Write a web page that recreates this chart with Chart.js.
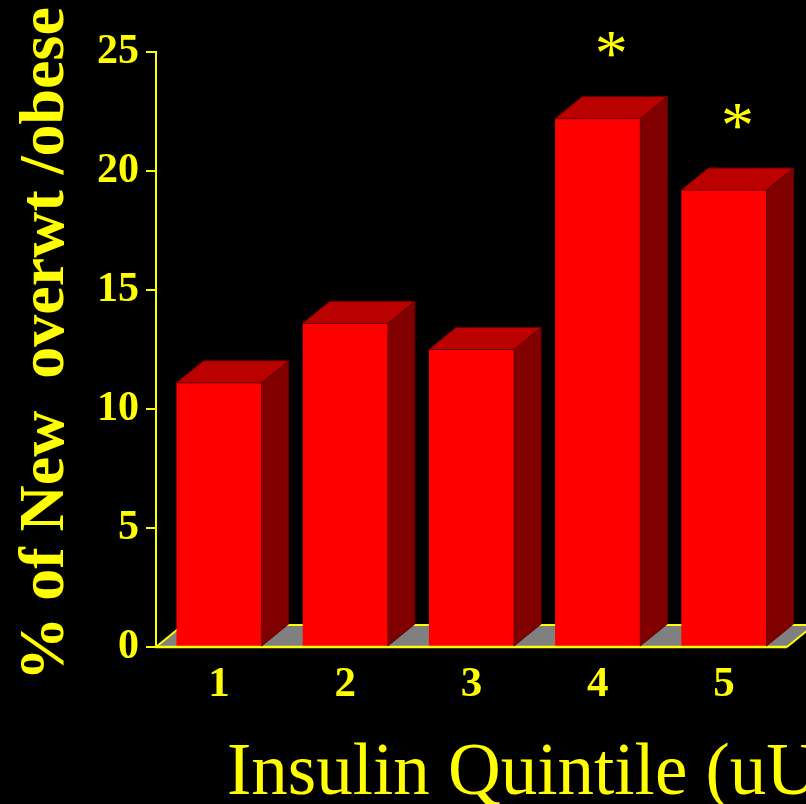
<!DOCTYPE html>
<html>
<head>
<meta charset="utf-8">
<script src="https://cdn.jsdelivr.net/npm/chart.js@4.4.1/dist/chart.umd.min.js"></script>
<style>
  html, body { margin: 0; padding: 0; background: #000; }
  canvas { display: block; }
</style>
</head>
<body>
<canvas id="chart" width="806" height="804"></canvas>
<script>
// Insulin quintiles and the share of children who became newly overweight/obese
const quintiles = ['1', '2', '3', '4', '5'];
const pctNewOverweight = [11.1, 13.6, 12.5, 22.2, 19.2];
const significant = [false, false, false, true, true];
const yTickValues = [0, 5, 10, 15, 20, 25];

const yTitle = '% of New  overwt /obese';
const xTitle = 'Insulin Quintile (uU/ml)';

const YELLOW = '#ffff00';
const FRONT = '#ff0000';
const TOP = '#bb0000';
const SIDE = '#800000';
const FLOOR = '#808080';
const DX = 27, DY = 22;   // depth offset of the 3-D extrusion

const solidBackground = {
  id: 'solidBackground',
  beforeDraw(chart) {
    const ctx = chart.ctx;
    ctx.save();
    ctx.fillStyle = '#000';
    ctx.fillRect(0, 0, chart.width, chart.height);
    ctx.restore();
  }
};

// Grey floor under the bars, with its yellow outline
const floor3d = {
  id: 'floor3d',
  beforeDatasetsDraw(chart) {
    const { ctx, chartArea: a } = chart;
    const y0 = chart.scales.y.getPixelForValue(0);
    ctx.save();
    ctx.beginPath();
    ctx.moveTo(a.left, y0);
    ctx.lineTo(a.left + DX, y0 - DY);
    ctx.lineTo(a.right + DX, y0 - DY);
    ctx.lineTo(a.right, y0);
    ctx.closePath();
    ctx.fillStyle = FLOOR;
    ctx.fill();
    ctx.strokeStyle = YELLOW;
    ctx.lineWidth = 2;
    ctx.beginPath();
    ctx.moveTo(a.left, y0);
    ctx.lineTo(a.left + DX, y0 - DY);
    ctx.lineTo(a.right + DX, y0 - DY);
    ctx.lineTo(a.right, y0);
    ctx.stroke();
    ctx.restore();
  },
  afterDatasetsDraw(chart) {
    const { ctx, chartArea: a } = chart;
    const y0 = chart.scales.y.getPixelForValue(0);
    ctx.save();
    ctx.strokeStyle = YELLOW;
    ctx.lineWidth = 2.5;
    ctx.beginPath();
    ctx.moveTo(a.left - 1, y0);
    ctx.lineTo(a.right, y0);
    ctx.stroke();
    ctx.restore();
  }
};

// Top and side faces of each bar, plus significance markers
const bars3d = {
  id: 'bars3d',
  afterDatasetsDraw(chart) {
    const ctx = chart.ctx;
    const meta = chart.getDatasetMeta(0);
    ctx.save();
    ctx.lineWidth = 1;
    ctx.strokeStyle = '#6a0000';
    meta.data.forEach((bar, i) => {
      const { x, y, base, width } = bar.getProps(['x', 'y', 'base', 'width'], true);
      const L = x - width / 2, R = x + width / 2;
      // top
      ctx.beginPath();
      ctx.moveTo(L, y);
      ctx.lineTo(L + DX, y - DY);
      ctx.lineTo(R + DX, y - DY);
      ctx.lineTo(R, y);
      ctx.closePath();
      ctx.fillStyle = TOP;
      ctx.fill();
      ctx.stroke();
      // side
      ctx.beginPath();
      ctx.moveTo(R, y);
      ctx.lineTo(R + DX, y - DY);
      ctx.lineTo(R + DX, base - DY);
      ctx.lineTo(R, base);
      ctx.closePath();
      ctx.fillStyle = SIDE;
      ctx.fill();
      ctx.stroke();

      if (significant[i]) {
        ctx.font = '66px "Liberation Serif", "Times New Roman", serif';
        ctx.fillStyle = YELLOW;
        ctx.textAlign = 'center';
        ctx.textBaseline = 'alphabetic';
        const m = ctx.measureText('*');
        const cy = y - DY - 52;
        const shift = (m.actualBoundingBoxAscent - m.actualBoundingBoxDescent) / 2;
        ctx.fillText('*', x + DX / 2, cy + shift);
      }
    });
    ctx.restore();
  }
};

// Axis titles
const axisTitles = {
  id: 'axisTitles',
  afterDraw(chart) {
    const ctx = chart.ctx;
    ctx.save();
    ctx.fillStyle = YELLOW;
    ctx.font = 'bold 64px "Liberation Serif", "Times New Roman", serif';
    ctx.translate(63, 344);
    ctx.rotate(-Math.PI / 2);
    ctx.textAlign = 'center';
    ctx.textBaseline = 'alphabetic';
    ctx.fillText(yTitle, 0, 0);
    ctx.restore();

    ctx.save();
    ctx.fillStyle = YELLOW;
    ctx.font = '73px "Liberation Serif", "Times New Roman", serif';
    ctx.textAlign = 'left';
    ctx.textBaseline = 'alphabetic';
    ctx.fillText(xTitle, 227, 794);
    ctx.restore();
  }
};

new Chart(document.getElementById('chart'), {
  type: 'bar',
  data: {
    labels: quintiles,
    datasets: [{
      data: pctNewOverweight,
      backgroundColor: FRONT,
      borderWidth: 0,
      categoryPercentage: 1.0,
      barPercentage: 0.675
    }]
  },
  options: {
    responsive: false,
    animation: false,
    events: [],
    layout: { padding: { top: 52, right: 19, left: 0, bottom: 0 } },
    plugins: { legend: { display: false }, tooltip: { enabled: false } },
    scales: {
      x: {
        grid: { display: false, drawTicks: false },
        border: { display: false },
        ticks: {
          color: YELLOW,
          padding: 12,
          maxRotation: 0,
          font: { family: '"Liberation Serif", "Times New Roman", serif', size: 43, weight: 'bold' }
        },
        afterFit(scale) { scale.height = 157; }
      },
      y: {
        min: 0,
        max: 25,
        afterBuildTicks(scale) { scale.ticks = yTickValues.map(v => ({ value: v })); },
        grid: { drawOnChartArea: false, drawTicks: true, tickLength: 10, color: YELLOW, lineWidth: 2 },
        border: { color: YELLOW, width: 2 },
        ticks: {
          color: YELLOW,
          padding: 7,
          font: { family: '"Liberation Serif", "Times New Roman", serif', size: 42, weight: 'bold' }
        },
        afterFit(scale) { scale.width = 156; }
      }
    }
  },
  plugins: [solidBackground, floor3d, bars3d, axisTitles]
});
</script>
</body>
</html>
